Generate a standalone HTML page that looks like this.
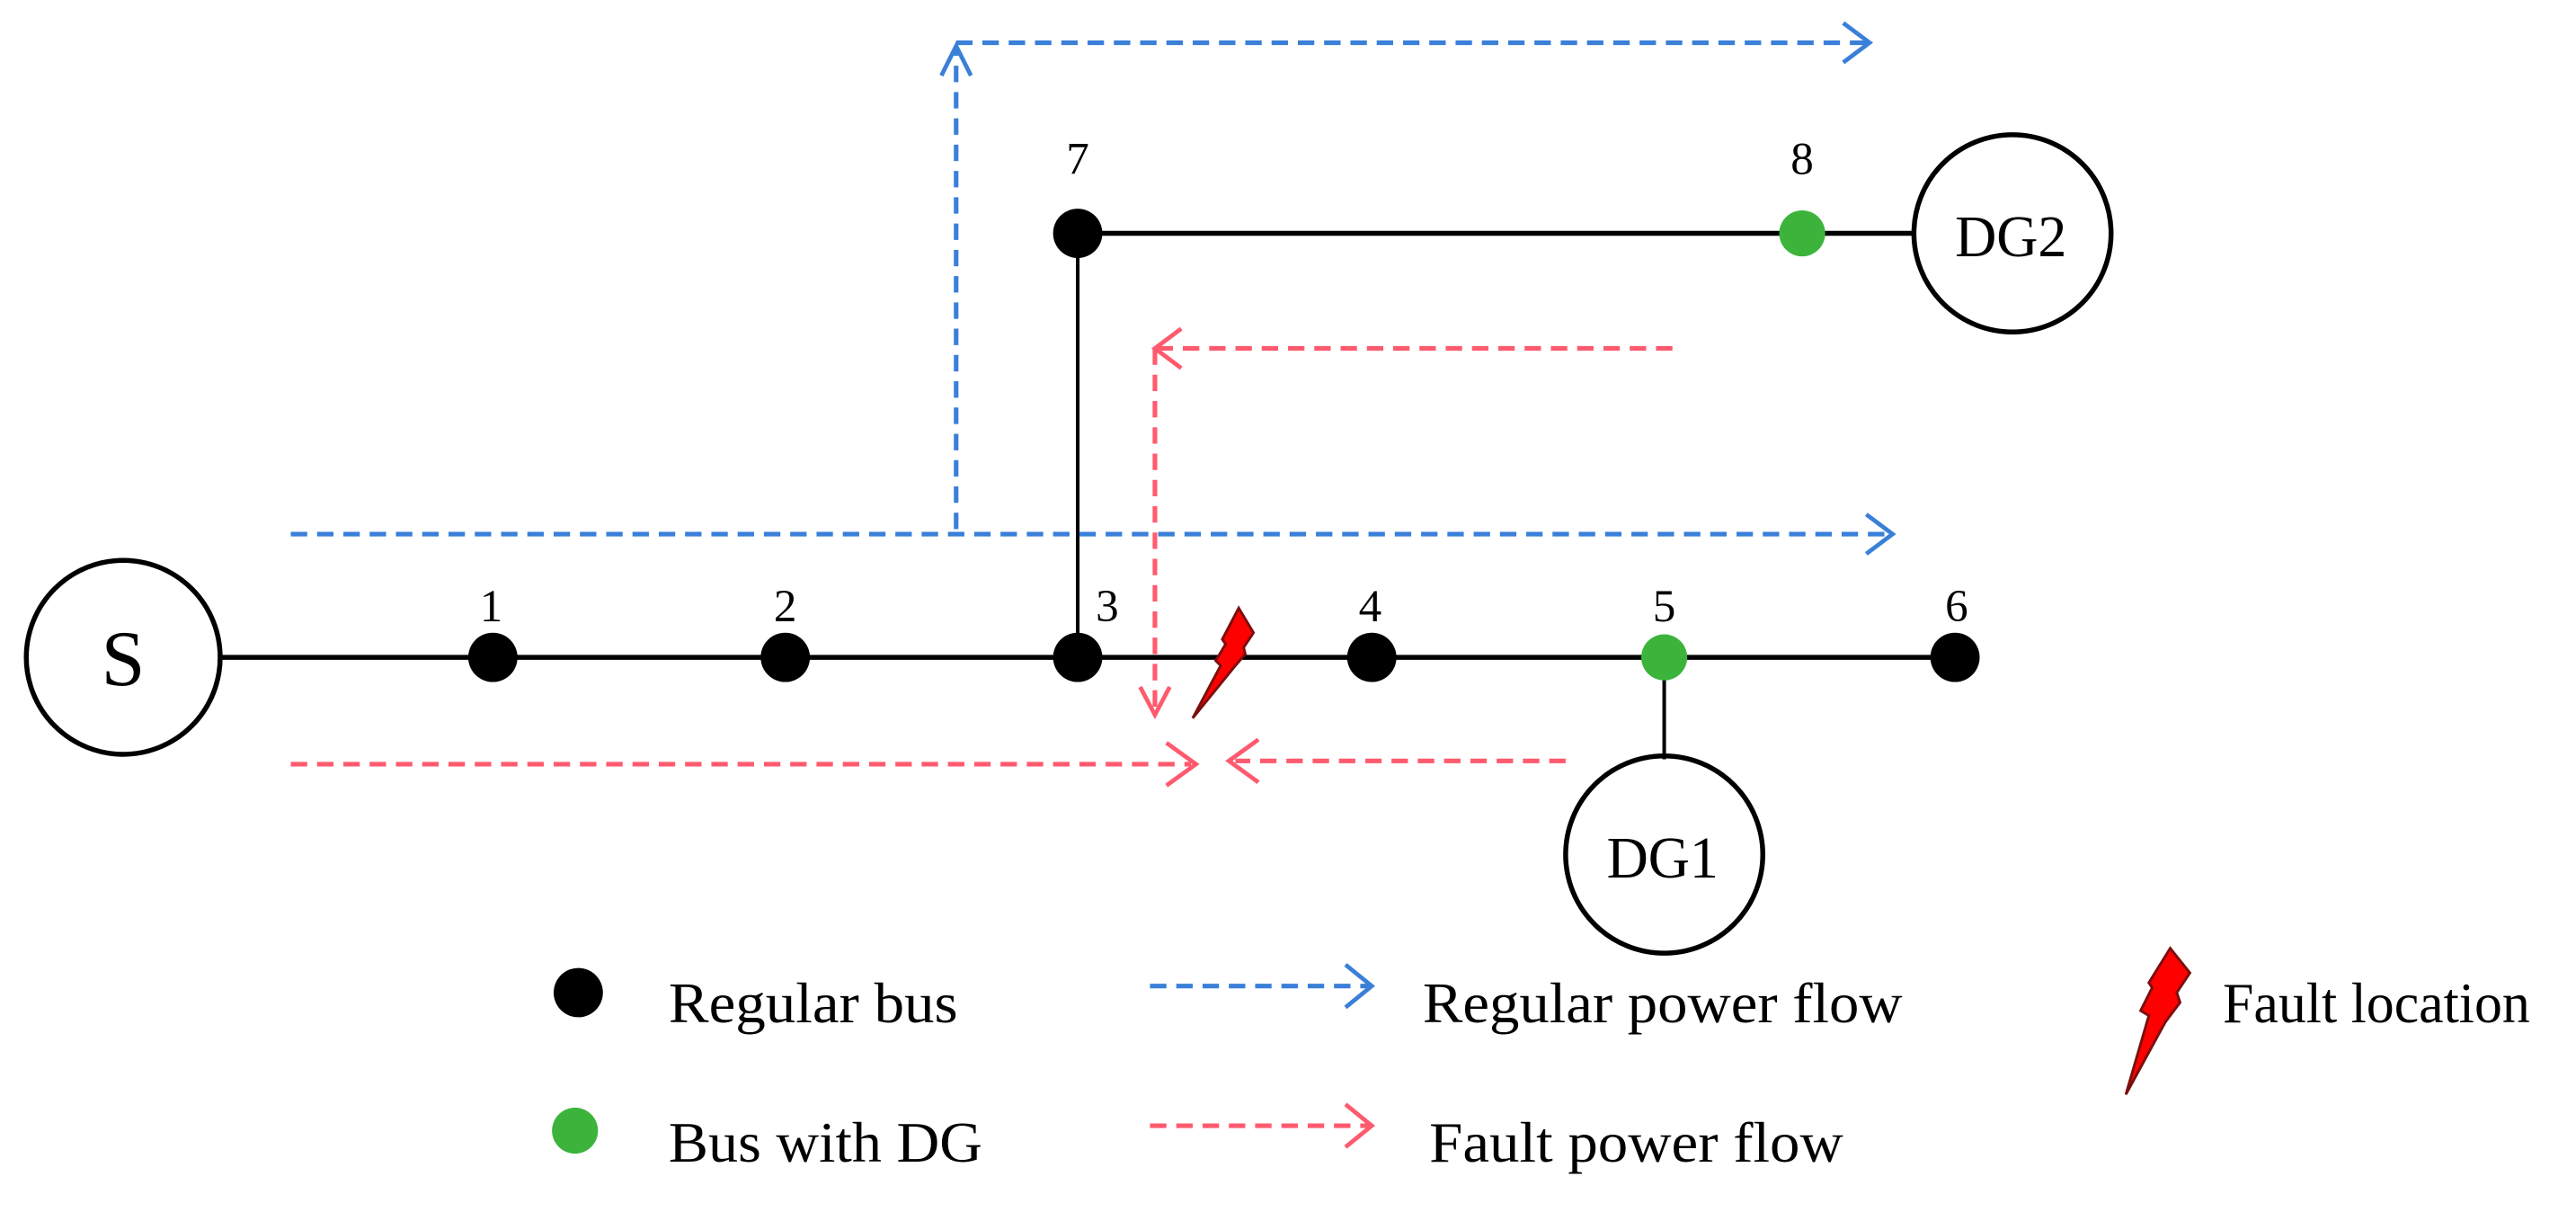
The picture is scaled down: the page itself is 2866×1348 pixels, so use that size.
<!DOCTYPE html>
<html><head><meta charset="utf-8"><style>html,body{margin:0;padding:0;background:#fff}svg{display:block}</style></head>
<body>
<svg width="2866" height="1348" viewBox="0 0 1568 737.5" preserveAspectRatio="none" xmlns="http://www.w3.org/2000/svg" font-family="Liberation Serif, serif">
<rect width="1568" height="737.5" fill="#fff"/>
<g stroke="#000" stroke-width="3" fill="none">
<line x1="135" y1="400" x2="1190" y2="400"/>
<line x1="656" y1="142" x2="1165" y2="142"/>
<line x1="656" y1="142" x2="656" y2="400" stroke-width="2.2"/>
<line x1="1013" y1="400" x2="1013" y2="462" stroke-width="2.2"/>
<circle cx="75" cy="400" r="59"/>
<circle cx="1225" cy="142" r="60"/>
<circle cx="1013" cy="520" r="60"/>
</g>
<g fill="#000">
<circle cx="300" cy="400" r="15"/><circle cx="478" cy="400" r="15"/><circle cx="656" cy="400" r="15"/>
<circle cx="835" cy="400" r="15"/><circle cx="1190" cy="400" r="15"/><circle cx="656" cy="142" r="15"/>
<circle cx="352" cy="604" r="15"/>
</g>
<g fill="#3cb43c"><circle cx="1013" cy="400" r="14"/><circle cx="1097" cy="142" r="14"/><circle cx="350" cy="688" r="14"/></g>
<g font-size="28" text-anchor="middle" fill="#000">
<text x="299" y="378">1</text><text x="478" y="378">2</text><text x="674" y="378">3</text>
<text x="834" y="378">4</text><text x="1013" y="378">5</text><text x="1191" y="378">6</text>
<text x="656" y="106">7</text><text x="1097" y="106">8</text>
</g>
<text x="75" y="417" font-size="48" text-anchor="middle">S</text>
<text x="1190" y="156" font-size="36" textLength="68" lengthAdjust="spacingAndGlyphs">DG2</text>
<text x="978" y="534" font-size="36" textLength="68" lengthAdjust="spacingAndGlyphs">DG1</text>
<g font-size="35" fill="#000">
<text x="407" y="622" textLength="176" lengthAdjust="spacingAndGlyphs">Regular bus</text>
<text x="866" y="622" textLength="292" lengthAdjust="spacingAndGlyphs">Regular power flow</text>
<text x="1353" y="622" textLength="187" lengthAdjust="spacingAndGlyphs">Fault location</text>
<text x="407" y="707" textLength="191" lengthAdjust="spacingAndGlyphs">Bus with DG</text>
<text x="870" y="707" textLength="252" lengthAdjust="spacingAndGlyphs">Fault power flow</text>
</g>
<g stroke="#3a7fd8" stroke-width="2.8" fill="none" stroke-dasharray="10,6">
<polyline points="582,322 582,28"/>
<line x1="582" y1="26" x2="1136" y2="26"/>
<line x1="177" y1="325" x2="1150" y2="325"/>
<line x1="700" y1="600" x2="833" y2="600"/>
</g>
<g stroke="#3a7fd8" stroke-width="2.6" fill="none">
<polyline points="1122,14 1138,26 1122,38"/>
<polyline points="1136,313 1152,325 1136,337"/>
<polyline points="573,46 582,28 591,46"/>
<polyline points="819,587 835,600 819,613"/>
</g>
<g stroke="#ff5a6e" stroke-width="2.8" fill="none" stroke-dasharray="10,6">
<line x1="1018" y1="212" x2="705" y2="212"/>
<line x1="703" y1="212" x2="703" y2="432"/>
<line x1="177" y1="465" x2="725" y2="465"/>
<line x1="953" y1="463" x2="752" y2="463"/>
<line x1="700" y1="685" x2="833" y2="685"/>
</g>
<g stroke="#ff5a6e" stroke-width="2.6" fill="none">
<polyline points="719,200 703,212 719,224"/>
<polyline points="694,418 703,435 712,418"/>
<polyline points="710,452 728,465 710,478"/>
<polyline points="766,450 748,463 766,476"/>
<polyline points="819,672 835,685 819,698"/>
</g>
<polygon points="754,370 763,385 757,394 758,398 752,405 726,437 743,405 740,402 746,392 744,389" fill="#ff0000" stroke="#7a0f0f" stroke-width="1.6"/>
<polygon points="1321,577 1333,592 1325,604 1327,610 1318,622 1294,666 1308,618 1303,615 1310,601 1308,598" fill="#ff0000" stroke="#7a0f0f" stroke-width="1.6"/>
</svg>
</body></html>
